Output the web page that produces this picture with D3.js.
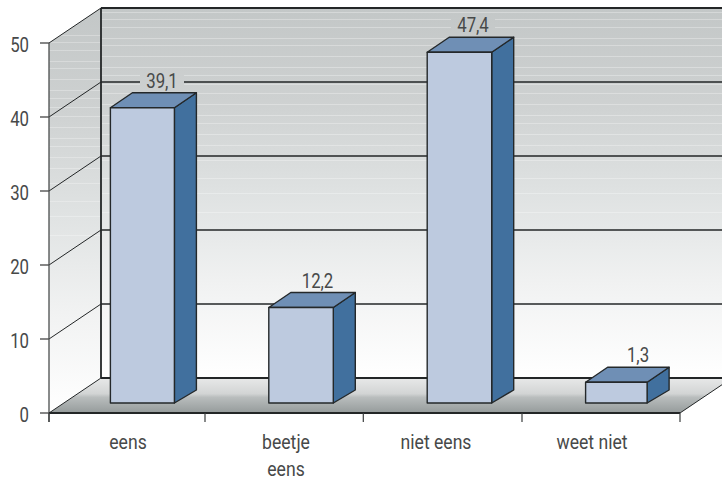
<!DOCTYPE html>
<html><head><meta charset="utf-8">
<script src="https://cdn.jsdelivr.net/npm/d3@7/dist/d3.min.js"></script>
<style>html,body{margin:0;background:#fff}svg{display:block}
text{font-family:Roboto,"Liberation Sans",sans-serif;font-weight:400;fill:#474949}</style>
</head><body><svg id="c" width="722" height="480"></svg>
<script>
const categories=[["eens"],["beetje","eens"],["niet eens"],["weet niet"]];
const valueLabels=["39,1","12,2","47,4","1,3"];
// bar heights as drawn, read against the axis units from each bar's foot
const drawnHeights=[39.9,12.9,47.4,2.8];
const yTicks=[0,10,20,30,40,50];
const wallBands=[0.01,0.03,0.05,0.08,0.1,0.13,0.16,0.18,0.205,0.23,0.26,0.29,0.31,0.34,0.37,0.41,0.46,0.5,0.55];

const svg=d3.select("#c"),defs=svg.append("defs");
const X0=49,X1=680,Y0=413,Y1=43,DX=52,DY=-35;
const y=d3.scaleLinear().domain([0,50]).range([Y0,Y1]);
const idx=d3.range(categories.length);
const xTick=d3.scaleLinear().domain(d3.range(categories.length+1)).range([49,205,363.3,522,680]);
const xBar=d3.scalePoint().domain(idx).range([110.4,585.6]);
const xCat=d3.scaleOrdinal().domain(idx).range([128,286,436,592]);
const xVal=d3.scaleOrdinal().domain(idx).range([162,317.5,473,638]);
const barW=d3.scaleOrdinal().domain(idx).range([64,64.5,64.5,61.5]);
const footInset=10,bDX=22,bDY=-15,bBotDY=-13;

function grad(id,stops,user){const g=defs.append("linearGradient").attr("id",id);
 if(user)g.attr("gradientUnits","userSpaceOnUse").attr("x1",0).attr("x2",0).attr("y1",Y1+DY).attr("y2",Y0+DY);
 else g.attr("x1",0).attr("x2",0).attr("y1",0).attr("y2",1);
 stops.forEach(s=>g.append("stop").attr("offset",s[0]).attr("stop-color",s[1]));}
const wallStops=[[0,"#c3c7c7"],[.25,"#ced1d1"],[.5,"#dfe2e2"],[.75,"#f1f2f2"],[1,"#ffffff"]];
grad("wall",wallStops,true);
grad("sidewall",wallStops,false);
grad("floor",[[0,"#e8e9e9"],[.45,"#d2d4d4"],[.55,"#b9bdbd"],[1,"#959b9b"]]);

const P=a=>a.map(p=>p.join(",")).join(" ");
svg.append("rect").attr("x",X0+DX).attr("y",Y1+DY).attr("width",722-X0-DX).attr("height",Y0-Y1).attr("fill","url(#wall)");
svg.append("polygon").attr("points",P([[X0,Y1],[X0+DX,Y1+DY],[X0+DX,Y0+DY],[X0,Y0]])).attr("fill","url(#sidewall)");
wallBands.forEach(f=>{const yy=Math.round(Y1+DY+f*(Y0-Y1))+.5;
 svg.append("line").attr("x1",X0+DX).attr("x2",722).attr("y1",yy).attr("y2",yy).attr("stroke","#fff").attr("stroke-opacity",.3);
 const sy=Math.round(yy+22)+.5;
 svg.append("line").attr("x1",X0).attr("x2",X0+DX).attr("y1",sy).attr("y2",sy).attr("stroke","#fff").attr("stroke-opacity",.28);
});
svg.append("polygon").attr("points",P([[X0,Y0],[X0+DX,Y0+DY],[X1+DX,Y0+DY],[X1,Y0]])).attr("fill","url(#floor)");
const dark="#232627";
yTicks.forEach(t=>{
 svg.append("line").attr("x1",X0).attr("y1",y(t)).attr("x2",X0+DX).attr("y2",y(t)+DY).attr("stroke",dark).attr("stroke-width",1);
 svg.append("line").attr("x1",X0+DX).attr("y1",y(t)+DY).attr("x2",722).attr("y2",y(t)+DY).attr("stroke",dark).attr("stroke-width",t===0||t===50?1.8:1.3);
 svg.append("line").attr("x1",X0-9).attr("y1",y(t)).attr("x2",X0).attr("y2",y(t)).attr("stroke","#444").attr("stroke-width",1.3);
 svg.append("text").attr("transform",`translate(29,${y(t)+8.5}) scale(.8,1)`).attr("text-anchor","end").attr("font-size",21).text(t);
});
svg.append("line").attr("x1",X0+DX).attr("x2",X0+DX).attr("y1",Y1+DY).attr("y2",Y0+DY).attr("stroke",dark).attr("stroke-width",1.8);
svg.append("line").attr("x1",X0).attr("x2",X0).attr("y1",Y1).attr("y2",Y0+9).attr("stroke","#4a4d4d").attr("stroke-width",1.3);
svg.append("line").attr("x1",X1).attr("y1",Y0).attr("x2",X1+DX).attr("y2",Y0+DY).attr("stroke",dark);
idx.forEach(i=>{
 const w=barW(i),bx=xBar(i),foot=Y0-footInset,top=foot-(Y0-y(drawnHeights[i])),r=bx+w;
 const g=svg.append("g").attr("stroke","#24282a").attr("stroke-width",1.4).attr("stroke-linejoin","round");
 g.append("polygon").attr("points",P([[r,top],[r+bDX,top+bDY],[r+bDX,foot+bBotDY],[r,foot]])).attr("fill","#41709e");
 g.append("polygon").attr("points",P([[bx,top],[bx+bDX,top+bDY],[r+bDX,top+bDY],[r,top]])).attr("fill","#6f8fb5");
 g.append("rect").attr("x",bx).attr("y",top).attr("width",w).attr("height",foot-top).attr("fill","#bdcadf");
 const by=top+bDY-5;
 svg.append("rect").attr("x",xVal(i)-22).attr("y",by-14).attr("width",44).attr("height",17).attr("fill","url(#wall)");
 svg.append("text").attr("transform",`translate(${xVal(i)},${by}) scale(.8,1)`).attr("text-anchor","middle").attr("font-size",21).text(valueLabels[i]);
});
svg.append("line").attr("x1",X0).attr("x2",X1).attr("y1",Y0).attr("y2",Y0).attr("stroke",dark).attr("stroke-width",1.8);
d3.range(categories.length+1).forEach(i=>{const px=xTick(i);
 svg.append("line").attr("x1",px).attr("x2",px).attr("y1",Y0).attr("y2",Y0+9).attr("stroke","#3a3d3d").attr("stroke-width",1.2);});
idx.forEach(i=>categories[i].forEach((s,k)=>{
 svg.append("text").attr("transform",`translate(${xCat(i)},${449+k*27}) scale(.88,1)`).attr("text-anchor","middle").attr("font-size",20).text(s);}));
</script></body></html>
